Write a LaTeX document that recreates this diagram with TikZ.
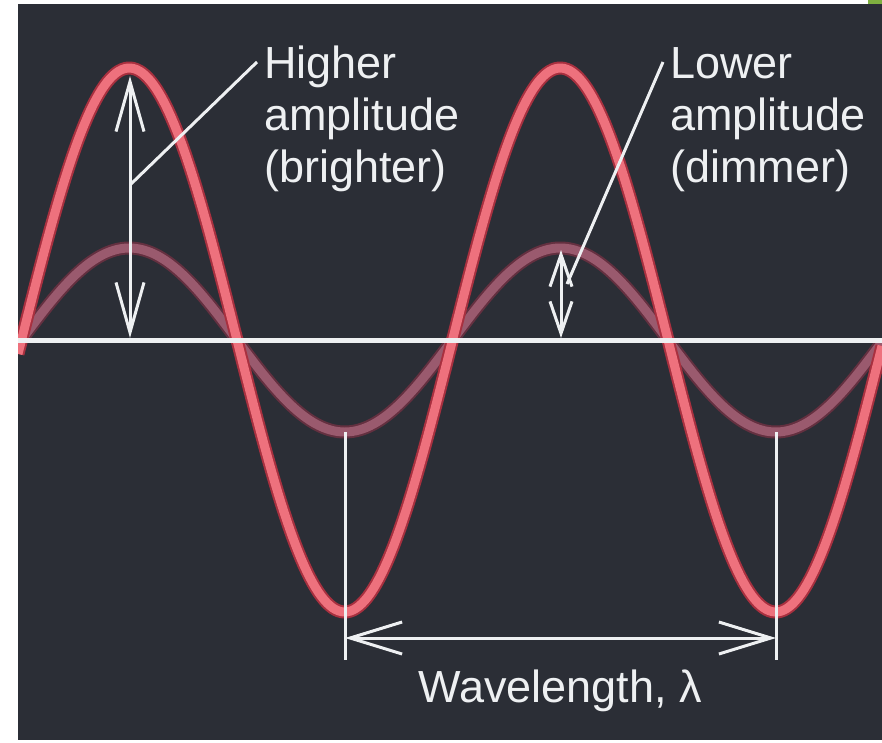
\documentclass[tikz,border=0pt]{standalone}
\usepackage{fontspec}
\setmainfont{Liberation Sans}
\usetikzlibrary{arrows.meta}
\definecolor{bg}{HTML}{2B2E36}
\definecolor{wavehi}{HTML}{EE717D}
\definecolor{wavehiedge}{HTML}{A8303F}
\definecolor{wavelo}{HTML}{9A5A6E}
\definecolor{waveloedge}{HTML}{643040}
\definecolor{ink}{HTML}{EEF0F2}
\definecolor{leaf}{HTML}{7FB040}
\begin{document}
\begin{tikzpicture}[x=1pt,y=-1pt,
  lbl/.style={text=ink, font=\fontsize{45}{52}\selectfont, inner sep=0pt, align=left, anchor=base west},
  wline/.style={draw=ink, line width=3pt},
  bigdim/.style={wline, {Straight Barb[length=50pt,width=28pt]}-{Straight Barb[length=50pt,width=28pt]}},
  smalldim/.style={wline, {Straight Barb[length=32pt,width=22pt]}-{Straight Barb[length=32pt,width=22pt]}},
  lamdim/.style={wline, {Straight Barb[length=52pt,width=32pt]}-{Straight Barb[length=52pt,width=32pt]}}]
\useasboundingbox (0,0) rectangle (882,742);
\fill[white] (0,0) rectangle (882,742);
\fill[leaf] (868,0) rectangle (882,4);
\fill[bg] (18,4) rectangle (882,740);
\begin{scope}
\clip (18,4) rectangle (882,740);
% small amplitude wave
\draw[waveloedge, line width=13pt] plot[domain=18:882, samples=300] (\x, {340 - 92*sin(0.835267*(\x-21.5))});
\draw[wavelo, line width=9pt] plot[domain=18:882, samples=300] (\x, {340 - 92*sin(0.835267*(\x-21.5))});
% large amplitude wave
\draw[wavehiedge, line width=13pt] plot[domain=18:882, samples=300] (\x, {340 - 272*sin(0.835267*(\x-21.5))});
\draw[wavehi, line width=9pt] plot[domain=18:882, samples=300] (\x, {340 - 272*sin(0.835267*(\x-21.5))});
% axis
\draw[ink, line width=5pt] (18,340) -- (882,340);
\end{scope}
% coordinates
\coordinate (peakA) at (130,76);
\coordinate (axisA) at (130,338);
\coordinate (peakB) at (561,250);
\coordinate (axisB) at (561,338);
\coordinate (troughL) at (345,432);
\coordinate (footL) at (345,660);
\coordinate (troughR) at (776,432);
\coordinate (footR) at (776,660);
\coordinate (lamL) at (345,638);
\coordinate (lamR) at (776,638);
\coordinate (leadA) at (131,184);
\coordinate (leadB) at (567,284);
% dimension arrows
\draw[bigdim] (peakA) -- (axisA);
\draw[smalldim] (peakB) -- (axisB);
\draw[wline] (troughL) -- (footL);
\draw[wline] (troughR) -- (footR);
\draw[lamdim] (lamL) -- (lamR);
% labels
\node[lbl] (hi) at (264,182) {Higher\\amplitude\\(brighter)};
\node[lbl] (lo) at (670,182) {Lower\\amplitude\\(dimmer)};
\node[lbl] (wl) at (418,702) {Wavelength, λ};
% leaders
\draw[wline] (257,62) -- (leadA);
\draw[wline] (663,62) -- (leadB);
\end{tikzpicture}
\end{document}
